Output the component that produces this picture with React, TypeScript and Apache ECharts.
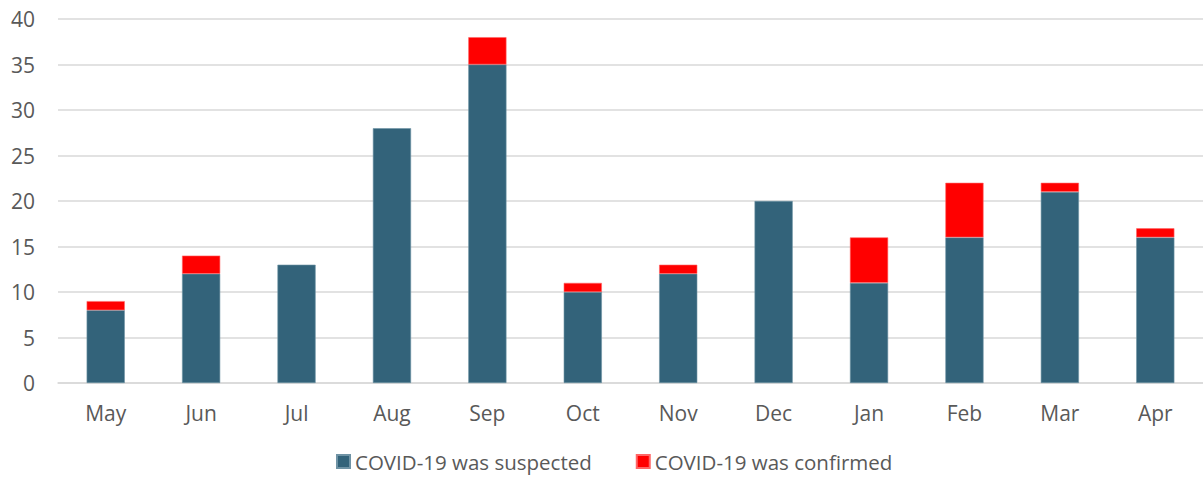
import React, { useEffect, useRef } from "react";
import * as echarts from "echarts";

const months = ["May", "Jun", "Jul", "Aug", "Sep", "Oct", "Nov", "Dec", "Jan", "Feb", "Mar", "Apr"];
const suspected = [8, 12, 13, 28, 35, 10, 12, 20, 11, 16, 21, 16];
const confirmed = [1, 2, 0, 0, 3, 1, 1, 0, 5, 6, 1, 1];
const seriesNames = ["COVID-19 was suspected", "COVID-19 was confirmed"];

const FONT = "'Open Sans', 'Liberation Sans', sans-serif";

export default function App() {
  const ref = useRef<HTMLDivElement>(null);
  useEffect(() => {
    if (!ref.current) return;
    const chart = echarts.init(ref.current, undefined, { renderer: "svg" });
    chart.setOption({
      animation: false,
      textStyle: { fontFamily: FONT },
      grid: { left: 58, right: 0, top: 19, bottom: 94, containLabel: false },
      legend: {
        top: 451,
        left: 336,
        padding: 0,
        itemWidth: 13,
        itemHeight: 13,
        itemGap: 44,
        icon: "rect",
        textStyle: { fontSize: 20.5, lineHeight: 20, color: "#595959", fontFamily: FONT },
        data: seriesNames,
      },
      xAxis: {
        type: "category",
        data: months,
        axisLine: { show: true, lineStyle: { color: "#d9d9d9", width: 1.5 } },
        axisTick: { show: false },
        axisLabel: { fontSize: 21, color: "#595959", margin: 19, fontFamily: FONT },
      },
      yAxis: {
        type: "value",
        min: 0,
        max: 40,
        interval: 5,
        axisLine: { show: false },
        axisTick: { show: false },
        splitLine: { lineStyle: { color: "#d9d9d9", width: 1.5 } },
        axisLabel: { fontSize: 21, color: "#595959", margin: 23, fontFamily: FONT },
      },
      series: [
        {
          name: seriesNames[0],
          type: "bar",
          stack: "a",
          data: suspected.map((v) => (v === 0 ? "-" : v)),
          barWidth: "40%",
          itemStyle: { color: "#33637A", borderColor: "#6f93a5", borderWidth: 0.6 },
        },
        {
          name: seriesNames[1],
          type: "bar",
          stack: "a",
          data: confirmed.map((v) => (v === 0 ? "-" : v)),
          barWidth: "40%",
          itemStyle: { color: "#FF0000", borderColor: "#ff6666", borderWidth: 0.6 },
        },
      ],
    });
    return () => chart.dispose();
  }, []);
  return <div ref={ref} style={{ width: 1203, height: 477, position: "absolute", left: 0, top: 0 }} />;
}
